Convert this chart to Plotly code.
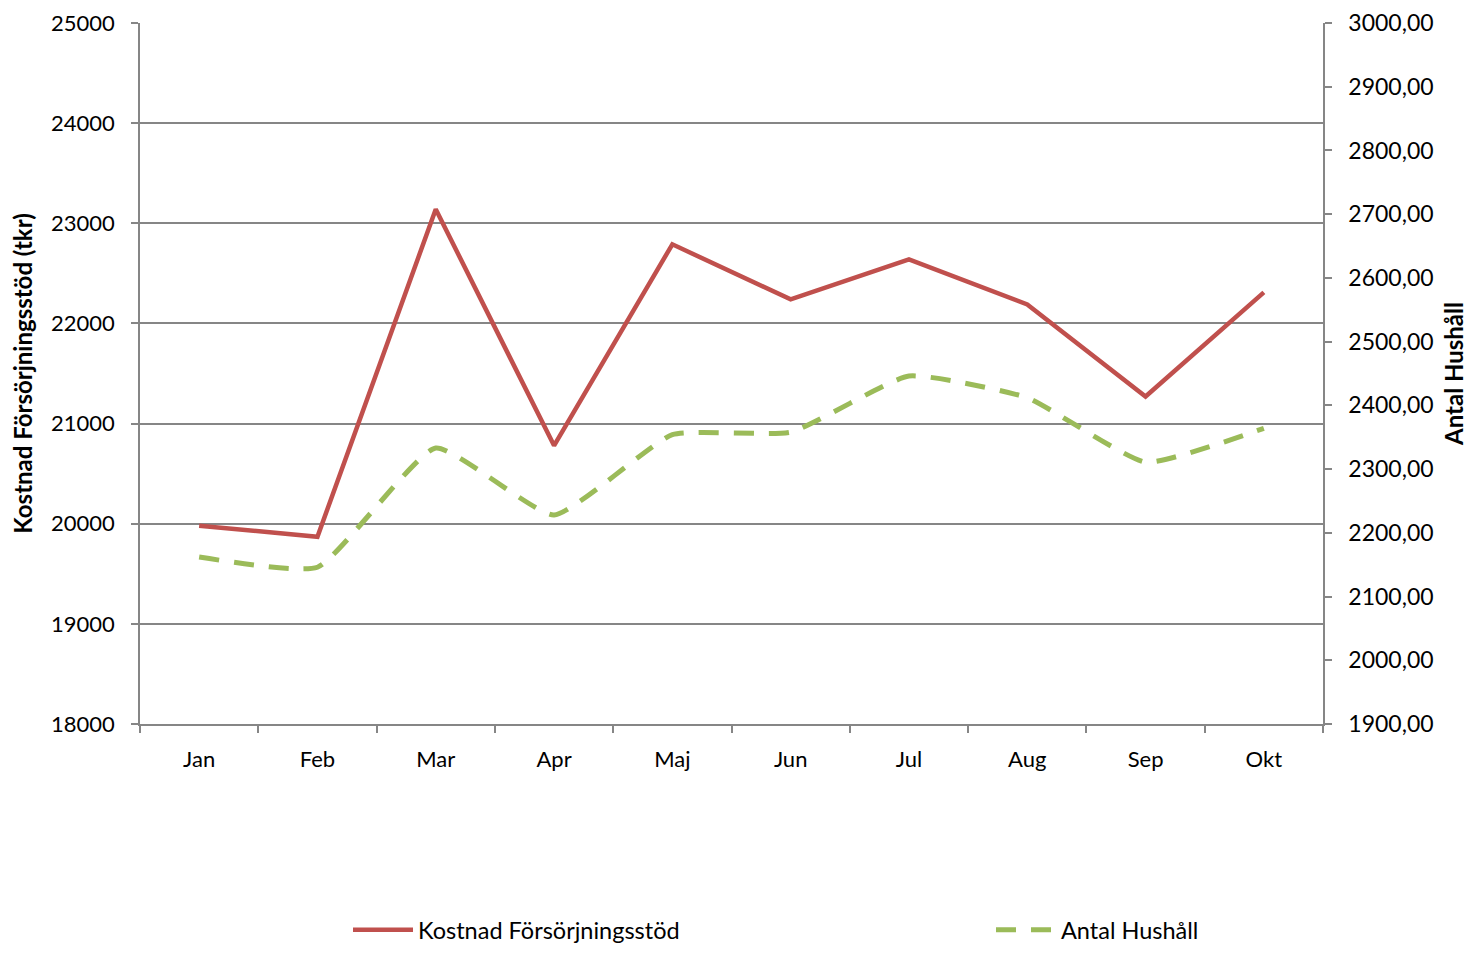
import plotly.graph_objects as go

months = ["Jan", "Feb", "Mar", "Apr", "Maj", "Jun", "Jul", "Aug", "Sep", "Okt"]
kostnad = [19980, 19870, 23140, 20780, 22790, 22240, 22640, 22190, 21270, 22310]
hushall = [2162, 2146, 2333, 2228, 2354, 2358, 2446, 2412, 2311, 2364]

left_ticks = [18000, 19000, 20000, 21000, 22000, 23000, 24000, 25000]
right_ticks = [1900, 2000, 2100, 2200, 2300, 2400, 2500, 2600, 2700, 2800, 2900, 3000]

FONT = "Lato"
GRID = "#868686"

# page has an 8px body margin; figure sized to fit the window
W, H = 1460, 940
L, T, PW, PH = 132, 15, 1183, 701
R = W - L - PW
B = H - T - PH

fig = go.Figure()
fig.add_trace(go.Scatter(
    x=months, y=kostnad, name="Kostnad Försörjningsstöd", mode="lines",
    line=dict(color="#C0504D", width=4.5), yaxis="y", legend="legend"))
fig.add_trace(go.Scatter(
    x=months, y=hushall, name="Antal Hushåll", mode="lines",
    line=dict(color="#9BBB59", width=5, dash="20px,15px", shape="spline", smoothing=0.45),
    yaxis="y2", legend="legend2"))

leg_y = (T + PH - (930 - 8)) / PH

fig.update_layout(
    width=W, height=H,
    margin=dict(l=L, r=R, t=T, b=B, autoexpand=False),
    paper_bgcolor="white", plot_bgcolor="white",
    separators=", ",
    font=dict(family=FONT, size=22, color="black"),
    showlegend=True,
    legend=dict(orientation="h", x=(348 - 8 - L) / PW, xanchor="left", y=leg_y, yanchor="middle",
                font=dict(family=FONT, size=23.5), bgcolor="rgba(0,0,0,0)", itemwidth=60),
    legend2=dict(orientation="h", x=(991 - 8 - L) / PW, xanchor="left", y=leg_y, yanchor="middle",
                 font=dict(family=FONT, size=23.5), bgcolor="rgba(0,0,0,0)", itemwidth=60),
    xaxis=dict(type="category", categoryorder="array", categoryarray=months,
               range=[-0.5, 9.5], showgrid=False, showline=True, linecolor=GRID, linewidth=1.5,
               ticks="outside", tickson="boundaries", ticklen=7, tickcolor=GRID, tickwidth=1.5,
               ticklabelstandoff=15,
               tickfont=dict(family=FONT, size=22), zeroline=False, automargin=False),
    yaxis=dict(range=[18000, 25000], tickvals=left_ticks, tickformat="d",
               showgrid=True, gridcolor=GRID, gridwidth=1.5,
               showline=True, linecolor=GRID, linewidth=1.5,
               ticks="outside", ticklen=7, tickcolor=GRID, tickwidth=1.5,
               ticklabelstandoff=12,
               tickfont=dict(family=FONT, size=22), zeroline=False, automargin=False,
               title=dict(text="<b>Kostnad Försörjningsstöd (tkr)</b>", font=dict(family=FONT, size=24),
                          standoff=22)),
    yaxis2=dict(range=[1900, 3000], tickvals=right_ticks, tickformat=".2f",
                overlaying="y", side="right", showgrid=False,
                showline=True, linecolor=GRID, linewidth=1.5,
                ticks="outside", ticklen=7, tickcolor=GRID, tickwidth=1.5,
                ticklabelstandoff=12,
                tickfont=dict(family=FONT, size=23), zeroline=False, automargin=False,
                title=dict(text="<b>Antal Hushåll</b>", font=dict(family=FONT, size=24), standoff=34)),
)

fig.write_html("out.html")
